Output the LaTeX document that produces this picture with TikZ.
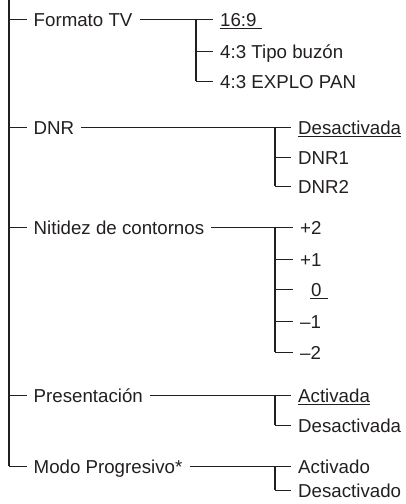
\documentclass[tikz,border=0pt]{standalone}
\usepackage{fontspec}
\setmainfont{Liberation Sans}
\definecolor{ink}{HTML}{231F20}
\newcommand\myul[1]{\setbox0\hbox{#1}\rlap{\rule[-3.2pt]{\wd0}{0.9pt}}\box0}
\tikzset{
  lbl/.style={anchor=west, inner xsep=7pt, inner ysep=0pt, text height=14pt, text depth=0pt,
              font=\fontsize{18.7}{22}\selectfont, text=ink},
  ln/.style={draw=ink, line width=0.9pt},
  vln/.style={draw=ink, line width=1.2pt},
  mainln/.style={draw=ink, line width=2pt}
}
\begin{document}
\begin{tikzpicture}[x=1pt,y=-1pt]
\useasboundingbox (0,0) rectangle (405,504);
% main items
\node[lbl] (ftv) at (26.5,19) {Formato TV};
\node[lbl] (dnr) at (26.5,127) {DNR};
\node[lbl] (nit) at (26.5,227) {Nitidez de contornos};
\node[lbl] (pre) at (26.5,395) {Presentación};
\node[lbl] (mpr) at (26.5,466) {Modo Progresivo*};
% children
\node[lbl] (f1) at (213,19) {\myul{16:9\ }};
\node[lbl] (f2) at (213,51) {4:3 Tipo buzón};
\node[lbl] (f3) at (213,81) {4:3 EXPLO PAN};
\node[lbl] (d1) at (291,127) {\myul{Desactivada}};
\node[lbl] (d2) at (291,157) {DNR1};
\node[lbl] (d3) at (291,186) {DNR2};
\node[lbl] (n1) at (293,227) {+2};
\node[lbl] (n2) at (293,259) {+1};
\node[lbl] (n3) at (293,289) {\kern10pt\myul{\kern1pt 0\kern6pt}};
\node[lbl] (n4) at (293,321) {–1};
\node[lbl] (n5) at (293,352) {–2};
\node[lbl] (p1) at (291,395) {\myul{Activada}};
\node[lbl] (p2) at (291,425) {Desactivada};
\node[lbl] (m1) at (291,466) {Activado};
\node[lbl] (m2) at (291,490) {Desactivado};
% main trunk
\coordinate (top) at (9,0);
\coordinate (bot) at (9,466.45);
\draw[mainln] (top) -- (bot);
\foreach \n in {ftv,dnr,nit,pre,mpr} \draw[ln] (top|-\n.west) -- (\n.west);
% Formato TV branch
\coordinate (bf) at (196,19);
\draw[ln] (ftv.east) -- (f1.west);
\draw[vln] (bf) -- (bf|-f3.west);
\draw[ln] (bf|-f2.west) -- (f2.west);
\draw[ln] (bf|-f3.west) -- (f3.west);
% DNR branch
\coordinate (bd) at (275,127);
\draw[ln] (dnr.east) -- (d1.west);
\draw[vln] (bd) -- (bd|-d3.west);
\draw[ln] (bd|-d2.west) -- (d2.west);
\draw[ln] (bd|-d3.west) -- (d3.west);
% Nitidez branch
\coordinate (bn) at (275,227);
\draw[ln] (nit.east) -- (n1.west);
\draw[vln] (bn) -- (bn|-n5.west);
\foreach \n in {n2,n3,n4,n5} \draw[ln] (bn|-\n.west) -- (\n.west);
% Presentacion branch
\coordinate (bp) at (275,395);
\draw[ln] (pre.east) -- (p1.west);
\draw[vln] (bp) -- (bp|-p2.west);
\draw[ln] (bp|-p2.west) -- (p2.west);
% Modo branch
\coordinate (bm) at (275,466);
\draw[ln] (mpr.east) -- (m1.west);
\draw[vln] (bm) -- (bm|-m2.west);
\draw[ln] (bm|-m2.west) -- (m2.west);
\end{tikzpicture}
\end{document}
